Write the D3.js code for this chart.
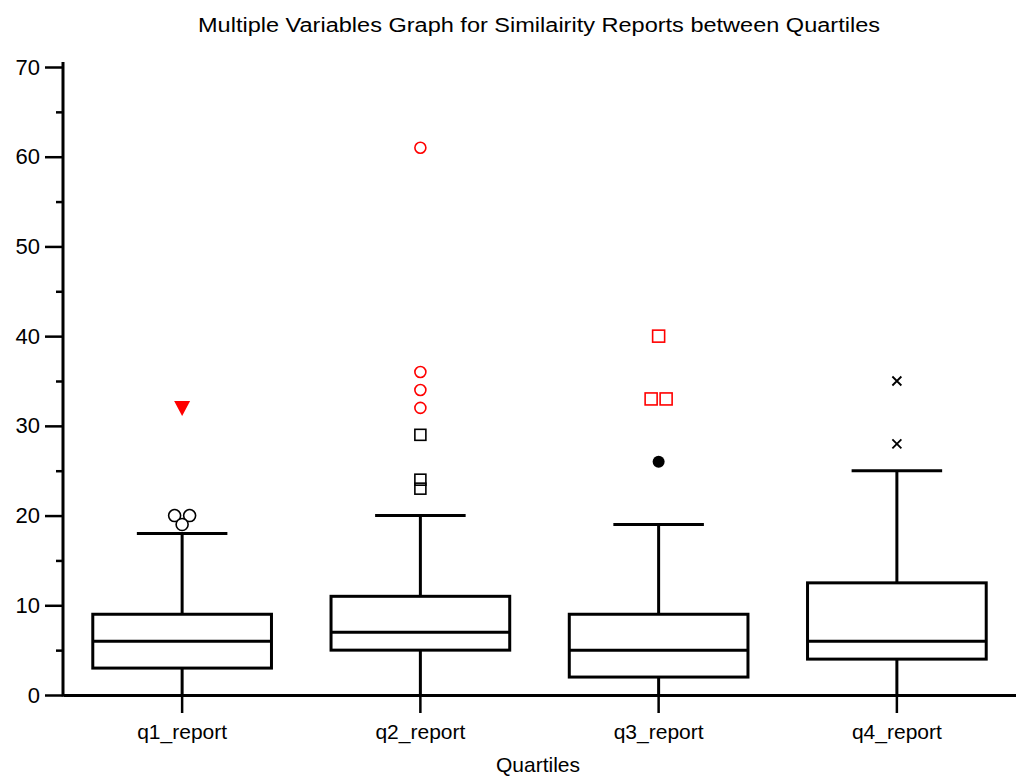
<!DOCTYPE html>
<html>
<head>
<meta charset="utf-8">
<script src="https://cdn.jsdelivr.net/npm/d3@7"></script>
<style>
  body { margin: 0; background: #fff; }
  text { font-family: "Liberation Sans", Arial, sans-serif; fill: #000; }
</style>
</head>
<body>
<svg id="chart" width="1016" height="777"></svg>
<script>
// box plot data
var categories = ["q1_report", "q2_report", "q3_report", "q4_report"];
var whiskerLow = [0, 0, 0, 0];
var boxLow     = [3, 5, 2, 4];
var medians    = [6, 7, 5, 6];
var boxHigh    = [9, 11, 9, 12.5];
var whiskerHigh = [18, 20, 19, 25];

// outliers, one array per marker group
var openCircles  = [{c: "q1_report", v: 20}, {c: "q1_report", v: 20}, {c: "q1_report", v: 19}];
var redTriangles = [{c: "q1_report", v: 32}];
var openSquares  = [{c: "q2_report", v: 29}, {c: "q2_report", v: 24}, {c: "q2_report", v: 23}];
var redCircles   = [{c: "q2_report", v: 32}, {c: "q2_report", v: 34}, {c: "q2_report", v: 36}, {c: "q2_report", v: 61}];
var filledDots   = [{c: "q3_report", v: 26}];
var redSquares   = [{c: "q3_report", v: 33}, {c: "q3_report", v: 33}, {c: "q3_report", v: 40}];
var crosses      = [{c: "q4_report", v: 28}, {c: "q4_report", v: 35}];

var yTicks = [0, 10, 20, 30, 40, 50, 60, 70];
var yMinor = [5, 15, 25, 35, 45, 55, 65];

var svg = d3.select("#chart");
var plotLeft = 63, plotRight = 1016, plotTop = 67, plotBottom = 695;

var x = d3.scaleBand().domain(categories).range([plotLeft, plotRight]).paddingInner(0).paddingOuter(0);
var y = d3.scaleLinear().domain([0, 70]).range([plotBottom, plotTop]);
var bw = x.bandwidth();

svg.append("text")
   .attr("x", 539).attr("y", 32)
   .attr("text-anchor", "middle")
   .attr("font-size", 20)
   .attr("textLength", 682).attr("lengthAdjust", "spacingAndGlyphs")
   .text("Multiple Variables Graph for Similairity Reports between Quartiles");

// boxes
var grp_box = svg.append("g").attr("fill", "none").attr("stroke", "#000").attr("stroke-width", 3);
categories.forEach(function(c, i) {
   var cx = x(c) + bw / 2;
   var hw = bw * 0.375, cw = bw * 0.19;
   grp_box.append("line").attr("x1", cx).attr("x2", cx).attr("y1", y(boxHigh[i])).attr("y2", y(whiskerHigh[i]));
   grp_box.append("line").attr("x1", cx).attr("x2", cx).attr("y1", y(boxLow[i])).attr("y2", y(whiskerLow[i]));
   grp_box.append("line").attr("x1", cx - cw).attr("x2", cx + cw).attr("y1", y(whiskerHigh[i])).attr("y2", y(whiskerHigh[i]));
   grp_box.append("rect")
      .attr("x", cx - hw).attr("width", hw * 2)
      .attr("y", y(boxHigh[i])).attr("height", y(boxLow[i]) - y(boxHigh[i]));
   grp_box.append("line").attr("x1", cx - hw).attr("x2", cx + hw).attr("y1", y(medians[i])).attr("y2", y(medians[i]));
});

// spread identical values sideways
function placed(list) {
   var counts = {}, seen = {};
   list.forEach(function(d) { var k = d.c + d.v; counts[k] = (counts[k] || 0) + 1; });
   return list.map(function(d) {
      var k = d.c + d.v; var n = counts[k]; var j = seen[k] || 0; seen[k] = j + 1;
      var off = (j - (n - 1) / 2) * 15;
      return {px: x(d.c) + bw / 2 + off, py: y(d.v)};
   });
}

var grp_out = svg.append("g");
grp_out.selectAll(".oc").data(placed(openCircles)).join("circle")
   .attr("cx", d => d.px).attr("cy", d => d.py).attr("r", 6)
   .attr("fill", "#fff").attr("stroke", "#000").attr("stroke-width", 1.6);
grp_out.selectAll(".rc").data(placed(redCircles)).join("circle")
   .attr("cx", d => d.px).attr("cy", d => d.py).attr("r", 5.5)
   .attr("fill", "none").attr("stroke", "#ff0000").attr("stroke-width", 1.6);
grp_out.selectAll(".fd").data(placed(filledDots)).join("circle")
   .attr("cx", d => d.px).attr("cy", d => d.py).attr("r", 6)
   .attr("fill", "#000");
grp_out.selectAll(".os").data(placed(openSquares)).join("rect")
   .attr("x", d => d.px - 5.5).attr("y", d => d.py - 5.5).attr("width", 11).attr("height", 11)
   .attr("fill", "none").attr("stroke", "#000").attr("stroke-width", 1.6);
grp_out.selectAll(".rs").data(placed(redSquares)).join("rect")
   .attr("x", d => d.px - 6).attr("y", d => d.py - 6).attr("width", 12).attr("height", 12)
   .attr("fill", "none").attr("stroke", "#ff0000").attr("stroke-width", 1.6);
grp_out.selectAll(".rt").data(placed(redTriangles)).join("path")
   .attr("d", d => "M" + (d.px - 8) + "," + (d.py - 7) + "L" + (d.px + 8) + "," + (d.py - 7) + "L" + d.px + "," + (d.py + 8) + "Z")
   .attr("fill", "#ff0000");
grp_out.selectAll(".cx").data(placed(crosses)).join("path")
   .attr("d", d => "M" + (d.px - 4.5) + "," + (d.py - 4.5) + "L" + (d.px + 4.5) + "," + (d.py + 4.5) + "M" + (d.px + 4.5) + "," + (d.py - 4.5) + "L" + (d.px - 4.5) + "," + (d.py + 4.5))
   .attr("stroke", "#000").attr("stroke-width", 1.8);

// axes
var yAxis = svg.append("g").attr("transform", "translate(" + plotLeft + ",0)")
   .call(d3.axisLeft(y).tickValues(yTicks).tickSize(18).tickPadding(5).tickSizeOuter(0));
svg.append("g").attr("transform", "translate(" + plotLeft + ",0)")
   .call(d3.axisLeft(y).tickValues(yMinor).tickSize(7).tickFormat("").tickSizeOuter(0))
   .select(".domain").remove();
var xAxis = svg.append("g").attr("transform", "translate(0," + plotBottom + ")")
   .call(d3.axisBottom(x).tickSize(18).tickPadding(11).tickSizeOuter(0));

svg.selectAll(".domain").attr("stroke-width", 3);
svg.selectAll(".tick line").attr("stroke-width", 2.5);
svg.selectAll(".tick text").attr("font-size", 21).attr("font-family", "Liberation Sans, Arial, sans-serif");
yAxis.selectAll(".tick text").attr("font-size", 22);
yAxis.select(".domain").attr("d", "M0," + (plotBottom + 1.5) + "V" + (plotTop - 5));

svg.append("text")
   .attr("x", 538).attr("y", 772)
   .attr("text-anchor", "middle")
   .attr("font-size", 21)
   .text("Quartiles");
</script>
</body>
</html>
